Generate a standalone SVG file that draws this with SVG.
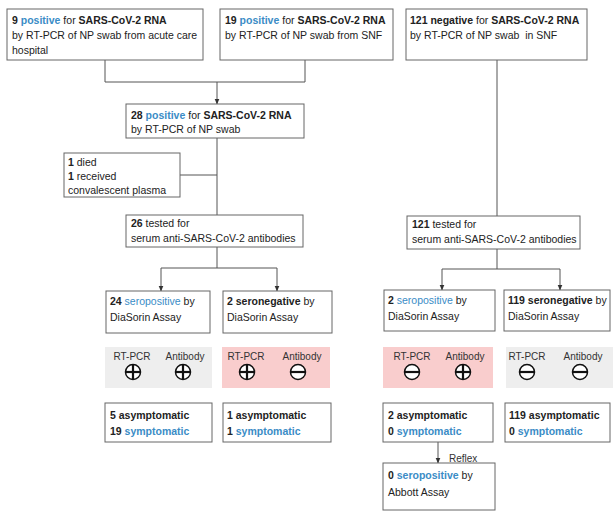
<svg xmlns="http://www.w3.org/2000/svg" width="613" height="515" viewBox="0 0 613 515">
<defs>
<marker id="arr" viewBox="0 0 6 6" refX="5.5" refY="3" markerWidth="6" markerHeight="6" markerUnits="userSpaceOnUse" orient="auto">
<path d="M0,0.5 L6,3 L0,5.5 Z" fill="#333"/>
</marker>
<style>
text{font-family:"Liberation Sans",Arial,sans-serif;font-size:10.5px;fill:#222;white-space:pre}
.box{fill:#fff;stroke:#666;stroke-width:1}
.b{font-weight:bold}
.bl{fill:#3a8cc6}
.con{fill:none;stroke:#555;stroke-width:1}
.grey{fill:#eeeeee}
.pink{fill:#f9cdcd}
.lab{font-size:10px;fill:#333}
.sym circle{fill:#fff;stroke:#111;stroke-width:1.5}
.sym line{stroke:#111;stroke-width:2.2}
</style>
</defs>
<rect width="613" height="515" fill="#fff"/>

<g id="connectors">
<path class="con" d="M105,60 V82 H305 V60"/>
<path class="con" d="M217,82 V104" marker-end="url(#arr)"/>
<path class="con" d="M217,138 V215 M180,175 H217"/>
<path class="con" d="M217,247 V268 M161,268 H277"/>
<path class="con" d="M161,268 V291" marker-end="url(#arr)"/>
<path class="con" d="M277,268 V291" marker-end="url(#arr)"/>
<path class="con" d="M497,60 V216"/>
<path class="con" d="M497,249 V269 M442,269 H560"/>
<path class="con" d="M442,269 V290" marker-end="url(#arr)"/>
<path class="con" d="M560,269 V290" marker-end="url(#arr)"/>
<path class="con" d="M438,442 V463" marker-end="url(#arr)"/>
<text x="449" y="462" class="lab">Reflex</text>
</g>

<g id="n9pos">
<rect class="box" x="7" y="9" width="196" height="51"/>
<text x="12" y="24"><tspan class="b">9 </tspan><tspan class="b bl">positive</tspan> for <tspan class="b">SARS-CoV-2 RNA</tspan></text>
<text x="12" y="39">by RT-PCR of NP swab from acute care</text>
<text x="12" y="54">hospital</text>
</g>

<g id="n19pos">
<rect class="box" x="220" y="9" width="173" height="51"/>
<text x="225" y="24"><tspan class="b">19 </tspan><tspan class="b bl">positive</tspan> for <tspan class="b">SARS-CoV-2 RNA</tspan></text>
<text x="225" y="39">by RT-PCR of NP swab from SNF</text>
</g>

<g id="n121neg">
<rect class="box" x="406" y="9" width="181" height="51"/>
<text x="410" y="24"><tspan class="b">121 negative</tspan> for <tspan class="b">SARS-CoV-2 RNA</tspan></text>
<text x="410" y="39">by RT-PCR of NP swab  in SNF</text>
</g>

<g id="n28pos">
<rect class="box" x="126" y="104" width="178" height="34"/>
<text x="131" y="119"><tspan class="b">28 </tspan><tspan class="b bl">positive</tspan> for <tspan class="b">SARS-CoV-2 RNA</tspan></text>
<text x="131" y="133">by RT-PCR of NP swab</text>
</g>

<g id="ndied">
<rect class="box" x="64" y="153" width="116" height="44"/>
<text x="68" y="166"><tspan class="b">1</tspan> died</text>
<text x="68" y="180"><tspan class="b">1</tspan> received</text>
<text x="68" y="194">convalescent plasma</text>
</g>

<g id="n26tested">
<rect class="box" x="126" y="215" width="177" height="32"/>
<text x="131" y="227"><tspan class="b">26</tspan> tested for</text>
<text x="131" y="242">serum anti-SARS-CoV-2 antibodies</text>
</g>

<g id="n121tested">
<rect class="box" x="407" y="216" width="173" height="33"/>
<text x="412" y="228"><tspan class="b">121</tspan> tested for</text>
<text x="412" y="243">serum anti-SARS-CoV-2 antibodies</text>
</g>

<g id="n24seropos">
<rect class="box" x="106" y="291" width="104" height="42"/>
<text x="110" y="305"><tspan class="b">24 </tspan><tspan class="bl">seropositive</tspan> by</text>
<text x="110" y="321">DiaSorin Assay</text>
</g>

<g id="n2seroneg">
<rect class="box" x="223" y="291" width="109" height="42"/>
<text x="227" y="305"><tspan class="b">2 seronegative</tspan> by</text>
<text x="227" y="321">DiaSorin Assay</text>
</g>

<g id="n2seropos">
<rect class="box" x="384" y="290" width="111" height="41"/>
<text x="388" y="304"><tspan class="b">2 </tspan><tspan class="bl">seropositive</tspan> by</text>
<text x="388" y="320">DiaSorin Assay</text>
</g>

<g id="n119seroneg">
<rect class="box" x="504" y="290" width="106" height="41"/>
<text x="508" y="304"><tspan class="b">119 seronegative</tspan> by</text>
<text x="508" y="320">DiaSorin Assay</text>
</g>

<g id="panel1">
<rect class="grey" x="105" y="347" width="107" height="41"/>
<text x="132" y="360" class="lab" text-anchor="middle">RT-PCR</text>
<text x="185" y="360" class="lab" text-anchor="middle">Antibody</text>
<g class="sym"><circle cx="133" cy="372" r="7.5"/><line x1="125.5" y1="372" x2="140.5" y2="372"/><line x1="133" y1="364.5" x2="133" y2="379.5"/></g>
<g class="sym"><circle cx="183" cy="372" r="7.5"/><line x1="175.5" y1="372" x2="190.5" y2="372"/><line x1="183" y1="364.5" x2="183" y2="379.5"/></g>
</g>

<g id="panel2">
<rect class="pink" x="222" y="347" width="108" height="41"/>
<text x="246" y="360" class="lab" text-anchor="middle">RT-PCR</text>
<text x="302" y="360" class="lab" text-anchor="middle">Antibody</text>
<g class="sym"><circle cx="247" cy="372" r="7.5"/><line x1="239.5" y1="372" x2="254.5" y2="372"/><line x1="247" y1="364.5" x2="247" y2="379.5"/></g>
<g class="sym"><circle cx="298" cy="372" r="7.5"/><line x1="290.5" y1="372" x2="305.5" y2="372"/></g>
</g>

<g id="panel3">
<rect class="pink" x="383" y="347" width="110" height="41"/>
<text x="412" y="360" class="lab" text-anchor="middle">RT-PCR</text>
<text x="465" y="360" class="lab" text-anchor="middle">Antibody</text>
<g class="sym"><circle cx="412" cy="372" r="7.5"/><line x1="404.5" y1="372" x2="419.5" y2="372"/></g>
<g class="sym"><circle cx="463" cy="372" r="7.5"/><line x1="455.5" y1="372" x2="470.5" y2="372"/><line x1="463" y1="364.5" x2="463" y2="379.5"/></g>
</g>

<g id="panel4">
<rect class="grey" x="506" y="347" width="107" height="41"/>
<text x="527" y="360" class="lab" text-anchor="middle">RT-PCR</text>
<text x="583" y="360" class="lab" text-anchor="middle">Antibody</text>
<g class="sym"><circle cx="527" cy="372" r="7.5"/><line x1="519.5" y1="372" x2="534.5" y2="372"/></g>
<g class="sym"><circle cx="580" cy="372" r="7.5"/><line x1="572.5" y1="372" x2="587.5" y2="372"/></g>
</g>

<g id="sym1">
<rect class="box" x="105" y="403" width="107" height="39"/>
<text x="110" y="419" class="b">5 asymptomatic</text>
<text x="110" y="435" class="b">19 <tspan class="bl">symptomatic</tspan></text>
</g>

<g id="sym2">
<rect class="box" x="223" y="403" width="108" height="39"/>
<text x="227" y="419" class="b">1 asymptomatic</text>
<text x="227" y="435" class="b">1 <tspan class="bl">symptomatic</tspan></text>
</g>

<g id="sym3">
<rect class="box" x="383" y="403" width="110" height="39"/>
<text x="388" y="419" class="b">2 asymptomatic</text>
<text x="388" y="435" class="b">0 <tspan class="bl">symptomatic</tspan></text>
</g>

<g id="sym4">
<rect class="box" x="505" y="403" width="105" height="39"/>
<text x="509" y="419" class="b">119 asymptomatic</text>
<text x="509" y="435" class="b">0 <tspan class="bl">symptomatic</tspan></text>
</g>

<g id="abbott">
<rect class="box" x="383" y="463" width="112" height="47"/>
<text x="388" y="479"><tspan class="b">0 </tspan><tspan class="b bl">seropositive</tspan> by</text>
<text x="388" y="496">Abbott Assay</text>
</g>
</svg>
